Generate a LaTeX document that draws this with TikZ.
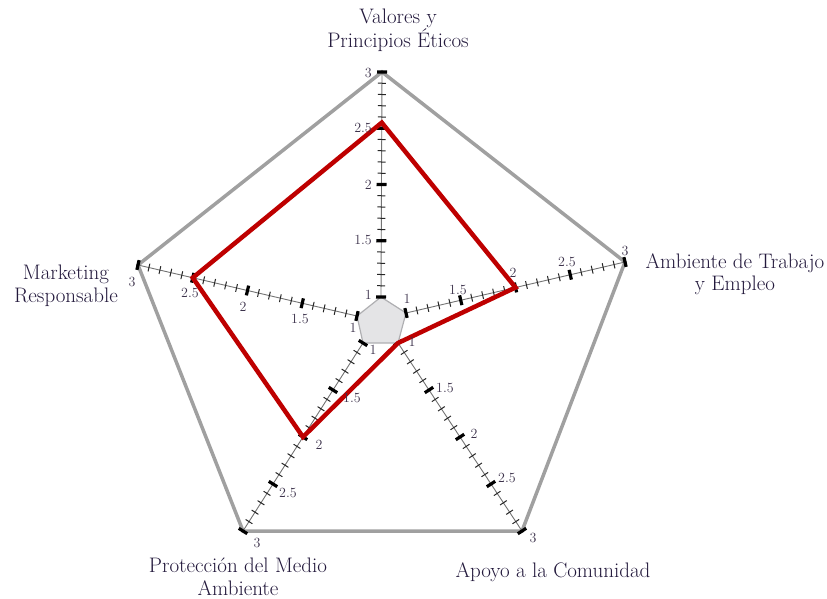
\documentclass[tikz,border=0pt]{standalone}
\usetikzlibrary{calc}
\definecolor{redline}{RGB}{190,0,0}
\definecolor{outerc}{RGB}{160,160,160}
\definecolor{innerfill}{RGB}{228,228,230}
\definecolor{innerdraw}{RGB}{175,175,178}
\definecolor{lbl}{RGB}{35,25,60}
\definecolor{tlbl}{RGB}{60,50,75}
\begin{document}
\begin{tikzpicture}[x=1pt,y=-1pt,
  mainlbl/.style={text=lbl, font=\fontsize{21}{22.5}\selectfont, align=center, inner sep=0pt},
  ticklbl/.style={text=tlbl, font=\fontsize{14}{15}\selectfont, inner sep=0pt},
  axisline/.style={draw=black!55, line width=0.9pt},
  minortick/.style={draw=black!85, line width=1pt},
  majortick/.style={draw=black, line width=3.2pt},
  outerpoly/.style={draw=outerc, line width=3.5pt, line join=miter},
  innerpoly/.style={fill=innerfill, draw=innerdraw, line width=1.2pt},
  datapoly/.style={draw=redline, line width=4.5pt, line join=miter},
]
\useasboundingbox (0,0) rectangle (827,599);
% axis ends: value 1 and value 3
\coordinate (T1) at (381,297); \coordinate (T3) at (382,72);
\coordinate (R1) at (406,313); \coordinate (R3) at (625,262);
\coordinate (B1) at (398,343); \coordinate (B3) at (522,531);
\coordinate (C1) at (363,343); \coordinate (C3) at (243,531);
\coordinate (L1) at (357,316); \coordinate (L3) at (138,265);
% outer pentagon
\draw[outerpoly] (T3) -- (R3) -- (B3) -- (C3) -- (L3) -- cycle;
% inner pentagon
\draw[innerpoly] (T1) -- (R1) -- (B1) -- (C1) -- (L1) -- cycle;
% axes with ticks
\foreach \a in {T,R,B,C,L}{
  \coordinate (\a E) at ($(\a1)!1.6!(\a3)$);
  \draw[axisline] (\a1) -- (\a3);
  \foreach \i in {0,...,20}{
    \coordinate (P) at ($(\a1)!\i/20!(\a3)$);
    \pgfmathtruncatemacro{\m}{mod(\i,5)}
    \ifnum\m=0
      \draw[majortick] ($(P)!5pt!90:(\a E)$) -- ($(P)!5pt!-90:(\a E)$);
    \else
      \draw[minortick] ($(P)!4pt!90:(\a E)$) -- ($(P)!4pt!-90:(\a E)$);
    \fi
  }
}
% data polygon
\coordinate (dT) at ($(T1)!0.775!(T3)$);
\coordinate (dR) at ($(R1)!0.5!(R3)$);
\coordinate (dB) at ($(B1)!0.0!(B3)$);
\coordinate (dC) at ($(C1)!0.5!(C3)$);
\coordinate (dL) at ($(L1)!0.75!(L3)$);
\draw[datapoly] (dT) -- (dR) -- (dB) -- (dC) -- (dL) -- cycle;
% tick labels: top axis
\foreach \t/\y [count=\k] in {3/73,2.5/128,2/185,1.5/240,1/295}{
  \node[ticklbl, anchor=east] (lT\k) at (372,\y) {\t};
}
% right axis
\foreach \t/\x/\y [count=\k] in {1/407/299,1.5/458/290,2/513/273,2.5/567/262,3/625/251}{
  \node[ticklbl] (lR\k) at (\x,\y) {\t};
}
% bottom-right axis
\foreach \t/\x/\y [count=\k] in {1/412/342,1.5/445/388,2/474/434,2.5/507/478,3/533/538}{
  \node[ticklbl] (lB\k) at (\x,\y) {\t};
}
% bottom-left axis
\foreach \t/\x/\y [count=\k] in {1/373/350,1.5/352/398,2/319/445,2.5/288/493,3/257/543}{
  \node[ticklbl] (lC\k) at (\x,\y) {\t};
}
% left axis
\foreach \t/\x/\y [count=\k] in {3/132/282,2.5/190/293,2/243/307,1.5/300/319,1/353/328}{
  \node[ticklbl] (lL\k) at (\x,\y) {\t};
}
% main labels
\node[mainlbl] (nT) at (398,30) {Valores y\\Principios Éticos};
\node[mainlbl] (nR) at (735,274) {Ambiente de Trabajo\\y Empleo};
\node[mainlbl] (nB) at (553,572) {Apoyo a la Comunidad};
\node[mainlbl] (nC) at (238,577) {Protección del Medio\\Ambiente};
\node[mainlbl] (nL) at (66,286) {Marketing\\Responsable};
\end{tikzpicture}
\end{document}
